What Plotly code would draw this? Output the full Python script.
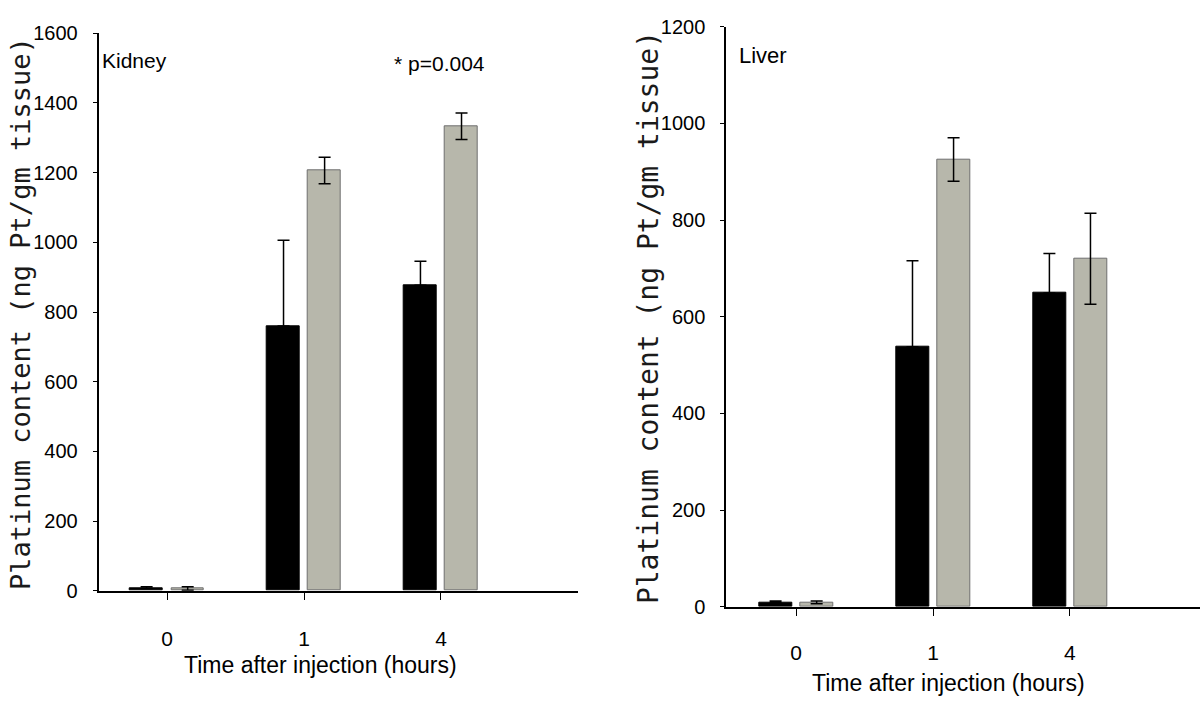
import plotly.graph_objects as go

# ---- data ----
time_labels = ["0", "1", "4"]
time_pos = [0, 1, 2]

kidney_black = [6, 760, 877]
kidney_black_err = [5, 246, 69]
kidney_grey = [6, 1206, 1333]
kidney_grey_err = [5, 38, 38]

liver_black = [9, 538, 649]
liver_black_err = [3, 178, 82]
liver_grey = [9, 925, 720]
liver_grey_err = [3, 45, 94]

kidney_ticks = [0, 200, 400, 600, 800, 1000, 1200, 1400, 1600]
liver_ticks = [0, 200, 400, 600, 800, 1000, 1200]

W, H = 1200, 701
SANS = "Liberation Sans, Arial, sans-serif"
MONO = "DejaVu Sans Mono, Liberation Mono, monospace"
GREY = "#b7b7ab"


def px(x):
    return x / W


def py(y):
    return 1 - y / H


fig = go.Figure()

err_black = dict(type="data", symmetric=False, thickness=1.5, width=6, color="#000")
err_grey = dict(type="data", thickness=1.5, width=6, color="#000")

# Kidney
fig.add_trace(go.Bar(x=time_pos, y=kidney_black, width=0.24, offset=-0.27,
                     marker=dict(color="#000", line=dict(color="#000", width=1)),
                     error_y=dict(array=kidney_black_err, arrayminus=[0, 0, 0], **err_black),
                     xaxis="x", yaxis="y", showlegend=False))
fig.add_trace(go.Bar(x=time_pos, y=kidney_grey, width=0.24, offset=0.03,
                     marker=dict(color=GREY, line=dict(color="#6e6e6e", width=1)),
                     error_y=dict(array=kidney_grey_err, **err_grey),
                     xaxis="x", yaxis="y", showlegend=False))
# Liver
fig.add_trace(go.Bar(x=time_pos, y=liver_black, width=0.24, offset=-0.27,
                     marker=dict(color="#000", line=dict(color="#000", width=1)),
                     error_y=dict(array=liver_black_err, arrayminus=[0, 0, 0], **err_black),
                     xaxis="x2", yaxis="y2", showlegend=False))
fig.add_trace(go.Bar(x=time_pos, y=liver_grey, width=0.24, offset=0.03,
                     marker=dict(color=GREY, line=dict(color="#6e6e6e", width=1)),
                     error_y=dict(array=liver_grey_err, **err_grey),
                     xaxis="x2", yaxis="y2", showlegend=False))

xcommon = dict(tickmode="array", tickvals=time_pos, ticktext=time_labels,
               showline=True, linecolor="#000", linewidth=2, ticks="outside",
               ticklen=7, tickwidth=1, tickcolor="#000", showgrid=False, zeroline=False,
               automargin=False,
               tickfont=dict(family=SANS, size=21, color="#000"))
ycommon = dict(showline=True, linecolor="#000", linewidth=2, ticks="outside",
               ticklen=4, tickwidth=1, tickcolor="#000", showgrid=False, zeroline=False,
               automargin=False,
               tickfont=dict(family=SANS, size=20, color="#000"), ticklabelstandoff=11)

fig.update_layout(
    template="none",
    width=W, height=H,
    margin=dict(l=0, r=0, t=0, b=0, pad=0),
    paper_bgcolor="white", plot_bgcolor="white",
    xaxis=dict(domain=[px(98.7), px(577.9)], range=[-0.5, 3.0], anchor="y",
               ticklabelstandoff=21, **xcommon),
    yaxis=dict(domain=[py(590.7), py(33.3)], range=[0, 1600], anchor="x",
               tickvals=kidney_ticks, **ycommon),
    xaxis2=dict(domain=[px(726.3), 1.0], range=[-0.51, 2.95], anchor="y2",
                ticklabelstandoff=19, **xcommon),
    yaxis2=dict(domain=[py(606.7), py(26.7)], range=[0, 1200], anchor="x2",
                tickvals=liver_ticks, **ycommon),
    bargap=0,
    showlegend=False,
)

ann = []


def add_text(text, x, y, size, family=SANS, xanchor="center", angle=0, color="#000"):
    ann.append(dict(text=text, x=px(x), y=py(y), xref="paper", yref="paper",
                    xanchor=xanchor, yanchor="middle", showarrow=False, textangle=angle,
                    font=dict(family=family, size=size, color=color)))


add_text("Kidney", 100, 61, 21, xanchor="left")
add_text("* p=0.004", 440, 63, 21)
add_text("Liver", 737, 55, 22, xanchor="left")
add_text("Time after injection (hours)", 320.5, 665, 23)
add_text("Time after injection (hours)", 948.7, 683, 23)
add_text("Platinum content (ng Pt/gm tissue)", 20, 314, 27, family=MONO, angle=-90, color="#1a1a1a")
add_text("Platinum content (ng Pt/gm tissue)", 648.6, 317.5, 28, family=MONO, angle=-90, color="#1a1a1a")
fig.update_layout(annotations=ann)

fig.write_html("out.html", config={"displayModeBar": False},
               post_script="document.body.style.margin='0';document.body.style.overflow='hidden';")
